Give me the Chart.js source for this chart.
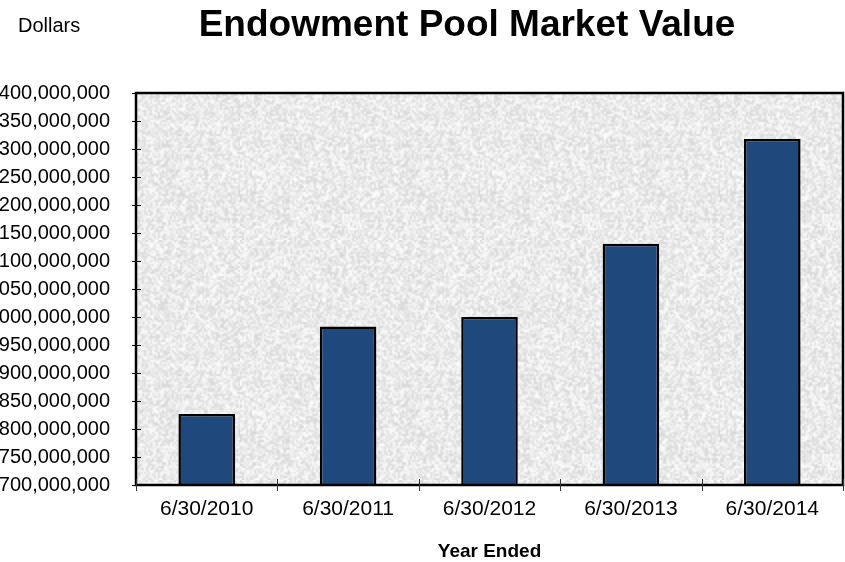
<!DOCTYPE html>
<html>
<head>
<meta charset="utf-8">
<script src="https://cdn.jsdelivr.net/npm/chart.js@4.4.0/dist/chart.umd.min.js"></script>
<style>
  html, body { margin: 0; padding: 0; background: #ffffff; overflow: hidden; }
  #wrap { position: relative; width: 845px; height: 562px; }
</style>
</head>
<body>
<div id="wrap"><canvas id="myChart" width="845" height="562"></canvas></div>
<script>
const categories = ['6/30/2010', '6/30/2011', '6/30/2012', '6/30/2013', '6/30/2014'];
const marketValues = [827000000, 983000000, 1000000000, 1131000000, 1318000000];
const yMin = 700000000;
const yMax = 1400000000;
const yStep = 50000000;

const chartTitle = 'Endowment Pool Market Value';
const unitLabel = 'Dollars';
const xTitle = 'Year Ended';

const fontFamily = '"Liberation Sans", Arial, Helvetica, sans-serif';

// grey "granite" fill for the plot area
function makeTexture()
{
  let size = 120;
  let raw = document.createElement('canvas');
  raw.width = size; raw.height = size;
  let rctx = raw.getContext('2d');
  let img = rctx.createImageData(size, size);
  for (let i = 0; i < size * size; i++) {
    let s = Math.sin(i * 12.9898 + 78.233) * 43758.5453;
    let r = s - Math.floor(s);
    let v = 214 + Math.round(r * 41);
    img.data[i * 4] = v;
    img.data[i * 4 + 1] = v;
    img.data[i * 4 + 2] = v;
    img.data[i * 4 + 3] = 255;
  }
  rctx.putImageData(img, 0, 0);
  let big = size * 2;
  let soft = document.createElement('canvas');
  soft.width = big; soft.height = big;
  let sctx = soft.getContext('2d');
  sctx.imageSmoothingEnabled = true;
  sctx.drawImage(raw, 0, 0, big, big);
  return soft;
}

const texture = makeTexture();

const framePlugin = {
  id: 'frame',
  beforeDatasetsDraw(chart) {
    const { ctx, chartArea: a } = chart;
    ctx.save();
    ctx.fillStyle = ctx.createPattern(texture, 'repeat');
    ctx.fillRect(a.left, a.top, a.right - a.left, a.bottom - a.top);
    ctx.restore();
  },
  afterDatasetsDraw(chart) {
    const { ctx, chartArea: a, scales } = chart;
    ctx.save();
    ctx.strokeStyle = '#000000';
    ctx.lineWidth = 2.5;
    ctx.strokeRect(a.left, a.top, a.right - a.left, a.bottom - a.top);

    // crossing tick marks on the value axis
    ctx.lineWidth = 1;
    scales.y.ticks.forEach((t, i) => {
      let py = Math.round(scales.y.getPixelForTick(i)) + 0.5;
      ctx.beginPath();
      ctx.moveTo(a.left - 4, py);
      ctx.lineTo(a.left + 5, py);
      ctx.stroke();
    });

    // tick marks between categories
    ctx.strokeStyle = '#333333';
    const n = categories.length;
    for (let i = 0; i <= n; i++) {
      let px = Math.round(a.left + (a.right - a.left) * i / n) + 0.5;
      ctx.beginPath();
      ctx.moveTo(px, a.bottom - 6);
      ctx.lineTo(px, a.bottom + 6);
      ctx.stroke();
    }

    // headings
    ctx.fillStyle = '#000000';
    ctx.textBaseline = 'middle';
    ctx.textAlign = 'left';
    ctx.font = '20px ' + fontFamily;
    ctx.fillText(unitLabel, 18, 26);
    ctx.textAlign = 'center';
    ctx.font = 'bold 37px ' + fontFamily;
    ctx.fillText(chartTitle, 467, 26);
    ctx.restore();
  }
};

const data = {
  labels: categories,
  datasets: [{
    label: 'Market Value',
    data: marketValues,
    backgroundColor: '#1f497d',
    borderColor: '#000000',
    borderWidth: 2.5,
    borderSkipped: false,
    barPercentage: 0.4,
    categoryPercentage: 1.0
  }]
};

const config = {
  type: 'bar',
  data: data,
  options: {
    responsive: false,
    animation: false,
    devicePixelRatio: 1,
    layout: { padding: { top: 93, right: 2, bottom: 0, left: 0 } },
    plugins: {
      legend: { display: false },
      tooltip: { enabled: false }
    },
    scales: {
      x: {
        grid: { display: false, drawTicks: false },
        border: { display: false },
        ticks: {
          color: '#000000',
          padding: 12,
          font: { family: fontFamily, size: 21 }
        },
        title: {
          display: true,
          text: xTitle,
          color: '#000000',
          padding: { top: 4, bottom: -1 },
          font: { family: fontFamily, size: 19, weight: 'bold' }
        },
        afterFit(s) { s.height = 77; }
      },
      y: {
        min: yMin,
        max: yMax,
        grid: { display: false, drawTicks: false },
        border: { display: false },
        ticks: {
          stepSize: yStep,
          color: '#000000',
          padding: 26,
          font: { family: fontFamily, size: 20 },
          callback: (v) => v.toLocaleString('en-US')
        },
        afterFit(s) { s.width = 136; }
      }
    }
  },
  plugins: [framePlugin]
};

let myChart = new Chart(document.getElementById('myChart').getContext('2d'), config);
</script>
</body>
</html>
